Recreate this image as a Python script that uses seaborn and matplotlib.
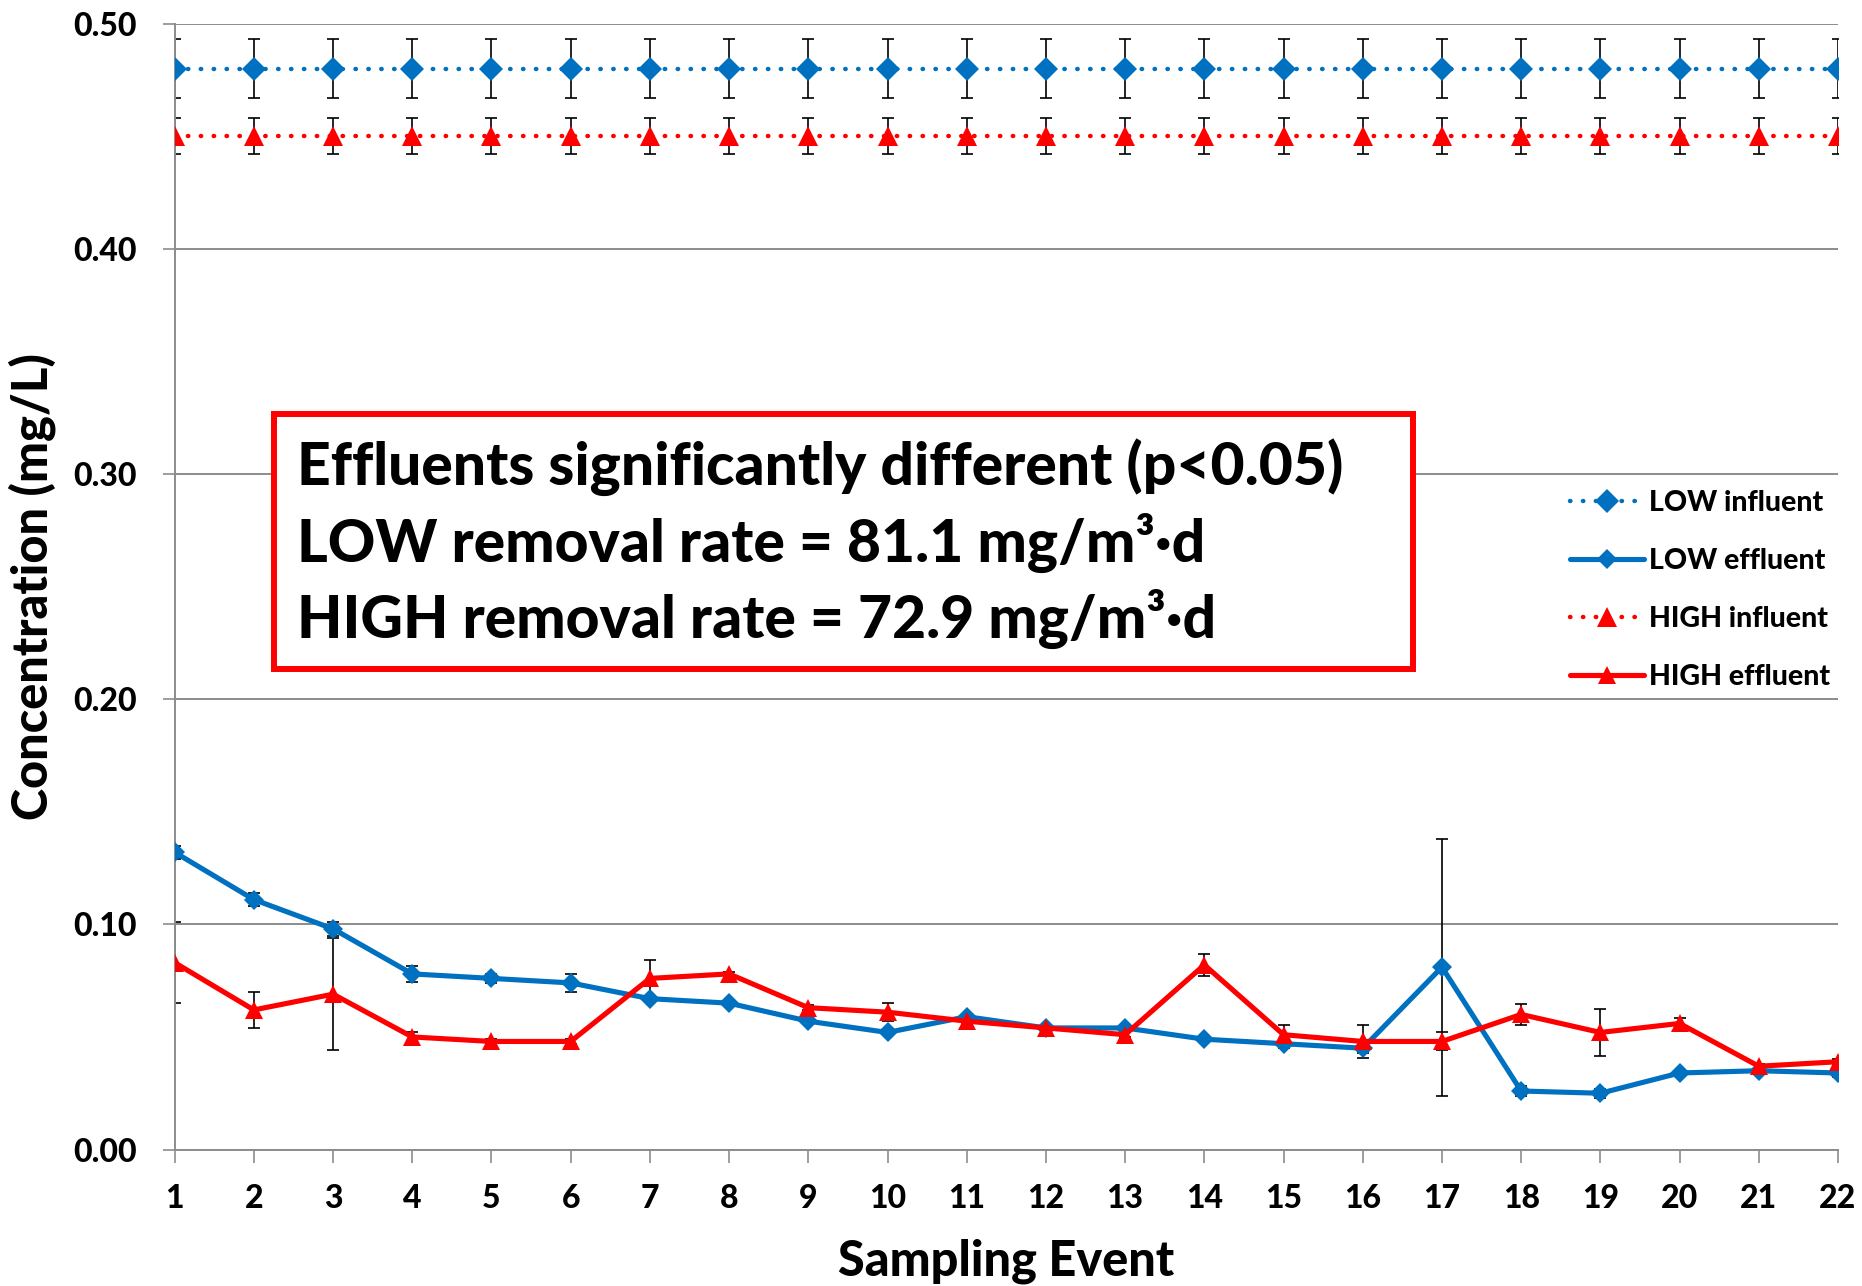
import numpy as np
import pandas as pd
import seaborn as sns
import matplotlib.pyplot as plt
from matplotlib.patches import Rectangle

# Sampling events
events = list(range(1, 23))

# Influent concentrations (mg/L) and their standard deviations
low_influent = [0.48, 0.48, 0.48, 0.48, 0.48, 0.48, 0.48, 0.48, 0.48, 0.48, 0.48,
                0.48, 0.48, 0.48, 0.48, 0.48, 0.48, 0.48, 0.48, 0.48, 0.48, 0.48]
low_influent_sd = [0.013, 0.013, 0.013, 0.013, 0.013, 0.013, 0.013, 0.013, 0.013, 0.013, 0.013,
                   0.013, 0.013, 0.013, 0.013, 0.013, 0.013, 0.013, 0.013, 0.013, 0.013, 0.013]
high_influent = [0.45, 0.45, 0.45, 0.45, 0.45, 0.45, 0.45, 0.45, 0.45, 0.45, 0.45,
                 0.45, 0.45, 0.45, 0.45, 0.45, 0.45, 0.45, 0.45, 0.45, 0.45, 0.45]
high_influent_sd = [0.008, 0.008, 0.008, 0.008, 0.008, 0.008, 0.008, 0.008, 0.008, 0.008, 0.008,
                    0.008, 0.008, 0.008, 0.008, 0.008, 0.008, 0.008, 0.008, 0.008, 0.008, 0.008]

# Effluent concentrations (mg/L) and their standard deviations
low_effluent = [0.132, 0.111, 0.098, 0.078, 0.076, 0.074, 0.067, 0.065, 0.057, 0.052, 0.059,
                0.054, 0.054, 0.049, 0.047, 0.045, 0.081, 0.026, 0.025, 0.034, 0.035, 0.034]
low_effluent_sd = [0.003, 0.003, 0.003, 0.0035, 0.002, 0.004, 0.001, 0.001, 0.001, 0.001, 0.001,
                   0.001, 0.001, 0.001, 0.002, 0.002, 0.057, 0.002, 0.002, 0.001, 0.001, 0.002]
high_effluent = [0.083, 0.062, 0.069, 0.050, 0.048, 0.048, 0.076, 0.078, 0.063, 0.061, 0.057,
                 0.054, 0.051, 0.082, 0.051, 0.048, 0.048, 0.060, 0.052, 0.056, 0.037, 0.039]
high_effluent_sd = [0.018, 0.008, 0.025, 0.002, 0.001, 0.001, 0.008, 0.001, 0.001, 0.004, 0.001,
                    0.001, 0.001, 0.005, 0.0045, 0.0074, 0.004, 0.0045, 0.0105, 0.0025, 0.001, 0.001]

y_ticks = [0.0, 0.1, 0.2, 0.3, 0.4, 0.5]
y_tick_labels = ["0.00", "0.10", "0.20", "0.30", "0.40", "0.50"]

BLUE = "#0070C0"
RED = "#FF0000"
GRID = "#8C8C8C"
WEIGHT = "black"

sns.set_theme(style="white")
plt.rcParams["font.family"] = ["Lato", "DejaVu Sans"]
plt.rcParams["font.weight"] = WEIGHT
plt.rcParams["text.color"] = "black"
plt.rcParams["axes.labelcolor"] = "black"
plt.rcParams["xtick.labelcolor"] = "black"
plt.rcParams["ytick.labelcolor"] = "black"

fig = plt.figure(figsize=(18.62, 12.86), dpi=100)
ax = fig.add_axes([0.0938, 0.1061, 0.8933, 0.8756])

dotted = (0, (0.1, 2.8))

series = [
    ("LOW influent", low_influent, low_influent_sd, BLUE, "D", dotted, 3.2, 12),
    ("LOW effluent", low_effluent, low_effluent_sd, BLUE, "D", "-", 3.7, 10.5),
    ("HIGH influent", high_influent, high_influent_sd, RED, "^", dotted, 3.2, 15),
    ("HIGH effluent", high_effluent, high_effluent_sd, RED, "^", "-", 3.7, 13.5),
]

for label, vals, sds, color, marker, ls, lw, ms in series:
    ax.errorbar(events, vals, yerr=sds, fmt="none", ecolor="black",
                elinewidth=1.2, capsize=4, capthick=1.2, zorder=2)
    df = pd.DataFrame({"event": events, "conc": vals})
    sns.lineplot(data=df, x="event", y="conc", ax=ax, color=color,
                 marker=marker, markersize=ms, markeredgecolor=color,
                 markeredgewidth=0, linewidth=lw, linestyle=ls,
                 dash_capstyle="round", label=label, errorbar=None, zorder=3)

ax.set_xlim(1, 22)
ax.set_ylim(0, 0.5)
ax.set_xticks(events)
ax.set_xticklabels([str(e) for e in events])
ax.set_yticks(y_ticks)
ax.set_yticklabels(y_tick_labels)

ax.yaxis.grid(True, color=GRID, linewidth=1.4)
ax.xaxis.grid(False)
for side in ["top", "right"]:
    ax.spines[side].set_visible(False)
for side in ["left", "bottom"]:
    ax.spines[side].set_color(GRID)
    ax.spines[side].set_linewidth(1.4)
ax.spines["bottom"].set_zorder(1)

ax.tick_params(axis="y", which="major", direction="out", length=9, width=1.2,
               color=GRID, labelcolor="black", pad=18, labelsize=23)
ax.tick_params(axis="x", which="major", direction="out", length=9, width=1.2,
               color=GRID, labelcolor="black", pad=16, labelsize=23)
ax.yaxis.set_ticks_position("left")
ax.xaxis.set_ticks_position("bottom")
for lab in ax.get_xticklabels() + ax.get_yticklabels():
    lab.set_fontweight(WEIGHT)

ax.set_xlabel("Sampling Event", fontsize=35, fontweight=WEIGHT, color="black")
ax.set_ylabel("Concentration (mg/L)", fontsize=35, fontweight=WEIGHT, color="black")
ax.xaxis.set_label_coords(0.5, -0.079)
ax.yaxis.set_label_coords(-0.0713, 0.5)

# Statistics annotation box
ax.add_patch(Rectangle((0.0598, 0.4267), 0.6847, 0.2265, transform=ax.transAxes,
                       facecolor="white", edgecolor=RED, linewidth=4.3, zorder=5))
box_lines = [
    "Effluents significantly different (p<0.05)",
    "LOW removal rate = 81.1 mg/m³·d",
    "HIGH removal rate = 72.9 mg/m³·d",
]
for txt, yy in zip(box_lines, [0.606, 0.5386, 0.471]):
    ax.text(0.0736, yy, txt, transform=ax.transAxes, fontsize=42.3,
            fontweight=WEIGHT, color="black", ha="left", va="center", zorder=6)

leg = ax.legend(loc="center right", bbox_to_anchor=(0.995, 0.497), frameon=False,
                fontsize=20.5, handlelength=2.6, handletextpad=0.15,
                labelspacing=1.12, borderpad=0, borderaxespad=0)
for t in leg.get_texts():
    t.set_fontweight(WEIGHT)
    t.set_color("black")

fig.savefig("out.png", dpi=100, facecolor="white")
